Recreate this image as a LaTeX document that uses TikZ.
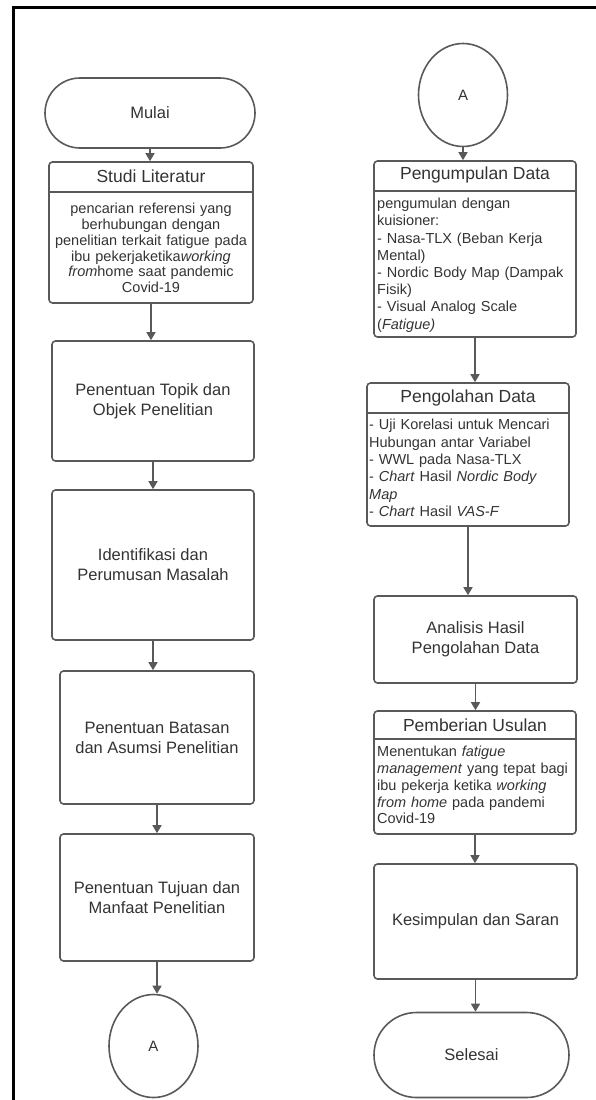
\documentclass[tikz,border=0pt]{standalone}
\usepackage{fontspec}
\setmainfont{Liberation Sans}
\usetikzlibrary{arrows.meta,shapes.geometric,shapes.misc}
\definecolor{garis}{HTML}{595959}
\definecolor{teks}{HTML}{333333}
\begin{document}
\begin{tikzpicture}[x=1pt,y=-1pt,>={Triangle[length=8pt,width=9pt]},
    kotak/.style={draw=garis,line width=1.6pt,rounded corners=3.5pt,inner sep=0pt},
    terminal/.style={draw=garis,line width=1.6pt,rounded rectangle,inner sep=0pt,
        text=teks,font=\fontsize{16.5}{20}\selectfont},
    konektor/.style={draw=garis,line width=1.6pt,ellipse,inner sep=0pt,
        minimum width=89pt,minimum height=103pt,text=teks,font=\fontsize{15}{18}\selectfont},
    label/.style={text=teks,align=center,font=\fontsize{16.5}{20}\selectfont},
    judul/.style={text=teks,font=\fontsize{17.5}{20}\selectfont},
    isi/.style={text=teks,inner sep=0pt,text width=198pt,font=\fontsize{14.5}{17.2}\selectfont},
    panah/.style={->,draw=garis,line width=1.5pt},
    sekat/.style={draw=garis,line width=1.6pt}]
    \useasboundingbox (0,0) rectangle (595,1100);
    \draw[line width=2.5pt] (13.5,1105)--(13.5,7.5)--(600,7.5);
    % kolom kiri
    \node[terminal,minimum width=210pt,minimum height=70pt] (mulai) at (150,113) {Mulai};
    \node[kotak,minimum width=204pt,minimum height=141pt] (studi) at (151,232.5) {};
    \node[judul] (studi-j) at (151,176) {Studi Literatur};
    \draw[sekat] (studi.west|-0,192)--(studi.east|-0,192);
    \node[isi,anchor=north,align=center,font=\fontsize{14.5}{15.8}\selectfont] (studi-i) at (151,203) {pencarian referensi yang\\
        berhubungan dengan\\
        penelitian terkait fatigue pada\\
        ibu pekerjaketika\textit{working}\\
        \textit{from}home saat pandemic\\
        Covid-19};
    \node[kotak,minimum width=202pt,minimum height=120pt] (topik) at (153,401) {};
    \node[label] at (topik) {Penentuan Topik dan\\Objek Penelitian};
    \node[kotak,minimum width=202pt,minimum height=150pt] (ident) at (153,565) {};
    \node[label] at (ident) {Identifikasi dan\\Perumusan Masalah};
    \node[kotak,minimum width=194pt,minimum height=133pt] (batas) at (157,737.5) {};
    \node[label] at (batas) {Penentuan Batasan\\dan Asumsi Penelitian};
    \node[kotak,minimum width=194pt,minimum height=127pt] (tujuan) at (157,897.5) {};
    \node[label] at (tujuan) {Penentuan Tujuan dan\\Manfaat Penelitian};
    \node[konektor] (a-bawah) at (153.5,1046) {A};
    % kolom kanan
    \node[konektor] (a-atas) at (463,95) {A};
    \node[kotak,minimum width=202pt,minimum height=176pt] (kumpul) at (475,249) {};
    \node[judul] (kumpul-j) at (475,175) {Pengumpulan Data};
    \draw[sekat] (kumpul.west|-0,191)--(kumpul.east|-0,191);
    \node[isi,anchor=north west] (kumpul-i) at (377,198) {pengumulan dengan\\
        kuisioner:\\
        - Nasa-TLX (Beban Kerja\\
        Mental)\\
        - Nordic Body Map (Dampak\\
        Fisik)\\
        - Visual Analog Scale\\
        (\textit{Fatigue)}};
    \node[kotak,minimum width=202pt,minimum height=143pt] (olah) at (468,454.5) {};
    \node[judul] (olah-j) at (468,398) {Pengolahan Data};
    \draw[sekat] (olah.west|-0,413)--(olah.east|-0,413);
    \node[isi,anchor=north west,font=\fontsize{14.5}{17.4}\selectfont] (olah-i) at (369,419) {- Uji Korelasi untuk Mencari\\
        Hubungan antar Variabel\\
        - WWL pada Nasa-TLX\\
        - \textit{Chart} Hasil \textit{Nordic Body}\\
        \textit{Map}\\
        - \textit{Chart} Hasil \textit{VAS-F}};
    \node[kotak,minimum width=203pt,minimum height=87pt] (analisis) at (475.5,639.5) {};
    \node[label] at (analisis) {Analisis Hasil\\Pengolahan Data};
    \node[kotak,minimum width=202pt,minimum height=123pt] (usulan) at (475,772.5) {};
    \node[judul] (usulan-j) at (475,725) {Pemberian Usulan};
    \draw[sekat] (usulan.west|-0,739)--(usulan.east|-0,739);
    \node[isi,anchor=north west,font=\fontsize{14.5}{16.8}\selectfont] (usulan-i) at (377,746) {Menentukan \textit{fatigue}\\
        \textit{management} yang tepat bagi\\
        ibu pekerja ketika \textit{working}\\
        \textit{from home} pada pandemi\\
        Covid-19};
    \node[kotak,minimum width=203pt,minimum height=115pt] (simpul) at (475.5,921.5) {};
    \node[label] at (simpul) {Kesimpulan dan Saran};
    \node[terminal,minimum width=195pt,minimum height=85pt] (selesai) at (471.5,1055) {Selesai};
    % panah
    \draw[panah] (mulai.south)--(mulai.south|-studi.north);
    \draw[panah] (studi.south)--(studi.south|-topik.north);
    \draw[panah] (topik.south)--(topik.south|-ident.north);
    \draw[panah] (ident.south)--(ident.south|-batas.north);
    \draw[panah] (batas.south)--(batas.south|-tujuan.north);
    \draw[panah] (tujuan.south)--(tujuan.south|-a-bawah.north);
    \draw[panah] (a-atas.south)--(a-atas.south|-kumpul.north);
    \draw[panah] (kumpul.south)--(kumpul.south|-olah.north);
    \draw[panah] (olah.south)--(olah.south|-analisis.north);
    \draw[panah] (analisis.south)--(analisis.south|-usulan.north);
    \draw[panah] (usulan.south)--(usulan.south|-simpul.north);
    \draw[panah] (simpul.south)--(simpul.south|-selesai.north);
\end{tikzpicture}
\end{document}
